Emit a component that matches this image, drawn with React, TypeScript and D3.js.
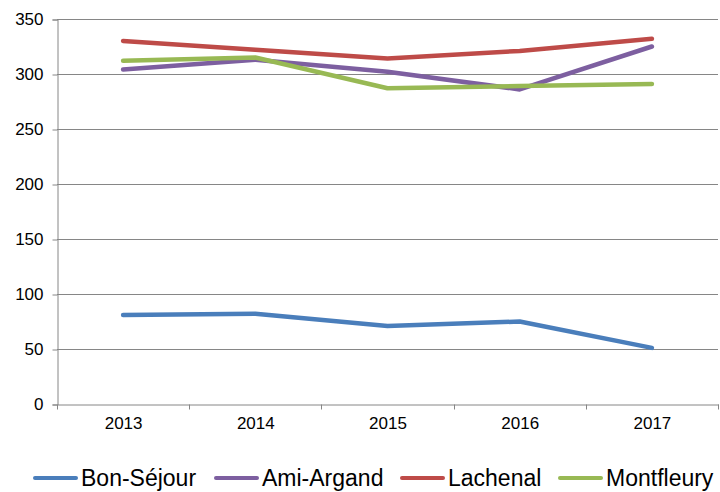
import { useEffect, useRef } from "react";
import * as d3 from "d3";

const years = ["2013", "2014", "2015", "2016", "2017"];
const yTicks = [0, 50, 100, 150, 200, 250, 300, 350];

const bonSejour = [81, 82, 71, 75, 51];
const amiArgand = [304, 313, 302, 286, 325];
const lachenal = [330, 322, 314, 321, 332];
const montfleury = [312, 315, 287, 289, 291];

const seriesNames = ["Bon-Séjour", "Ami-Argand", "Lachenal", "Montfleury"];
const seriesColors = ["#4a7ebb", "#7d5fa0", "#be4b48", "#98b954"];

export default function App() {
  const ref = useRef<SVGSVGElement>(null);

  useEffect(() => {
    if (!ref.current) return;
    const svg = d3.select(ref.current);
    svg.selectAll("*").remove();
    const width = 720;
    const height = 492;
    const margin = { top: 19, right: 2, bottom: 88, left: 57 };
    const font = "'Liberation Sans', Arial, sans-serif";
    const grey = "#868686";

    const x = d3
      .scaleBand()
      .domain(years)
      .range([margin.left, width - margin.right])
      .padding(0);

    const y = d3
      .scaleLinear()
      .domain([0, 350])
      .range([height - margin.bottom, margin.top]);

    // gridlines
    svg
      .append("g")
      .selectAll("line")
      .data(yTicks.filter((t) => t > 0))
      .enter()
      .append("line")
      .attr("x1", margin.left)
      .attr("x2", width - margin.right)
      .attr("y1", (d) => Math.round(y(d)) + 0.5)
      .attr("y2", (d) => Math.round(y(d)) + 0.5)
      .attr("stroke", grey)
      .attr("stroke-width", 1);

    // y axis
    const yAxis = svg
      .append("g")
      .attr("transform", `translate(${margin.left + 0.5},0.5)`)
      .call(d3.axisLeft(y).tickValues(yTicks).tickSize(5).tickPadding(9).tickFormat(d3.format("d")));
    yAxis.selectAll("text").style("fill", "#000").style("font-size", "17px").style("font-family", font);
    yAxis.selectAll(".domain, .tick line").style("stroke", grey);

    // x axis
    const xAxis = svg
      .append("g")
      .attr("transform", `translate(0.5,${Math.round(y(0)) + 0.5})`)
      .call(d3.axisBottom(x).tickSize(0).tickSizeOuter(0).tickPadding(12));
    xAxis.selectAll("text").style("fill", "#000").style("font-size", "17px").style("font-family", font);
    xAxis.selectAll(".domain").style("stroke", grey);
    const bounds = [...years.map((yr) => x(yr)!), width - margin.right];
    xAxis
      .selectAll("line.bound")
      .data(bounds)
      .enter()
      .append("line")
      .attr("class", "bound")
      .attr("x1", (d) => Math.round(d))
      .attr("x2", (d) => Math.round(d))
      .attr("y1", 0)
      .attr("y2", 5)
      .attr("stroke", grey);

    const all = [bonSejour, amiArgand, lachenal, montfleury];
    const line = d3
      .line<number>()
      .x((_d, i) => x(years[i])! + x.bandwidth() / 2)
      .y((d) => y(d));

    svg
      .append("g")
      .selectAll("path")
      .data(all)
      .enter()
      .append("path")
      .attr("d", (d) => line(d))
      .attr("fill", "none")
      .attr("stroke", (_d, i) => seriesColors[i])
      .attr("stroke-width", 4.5)
      .attr("stroke-linecap", "round")
      .attr("stroke-linejoin", "round");

    // legend
    const legendX = [33, 214, 400, 558];
    const leg = svg.append("g");
    seriesNames.forEach((name, i) => {
      const g = leg.append("g").attr("transform", `translate(${legendX[i]},478)`);
      g.append("line")
        .attr("x1", 2)
        .attr("x2", 43)
        .attr("y1", 0)
        .attr("y2", 0)
        .attr("stroke", seriesColors[i])
        .attr("stroke-width", 4)
        .attr("stroke-linecap", "round");
      g.append("text")
        .attr("x", 48)
        .attr("y", 8)
        .style("font-family", font)
        .style("font-size", "23px")
        .style("fill", "#000")
        .text(name);
    });
  }, []);

  return (
    <svg
      ref={ref}
      width={720}
      height={492}
      style={{ position: "absolute", left: 0, top: 0, background: "#fff" }}
    />
  );
}
